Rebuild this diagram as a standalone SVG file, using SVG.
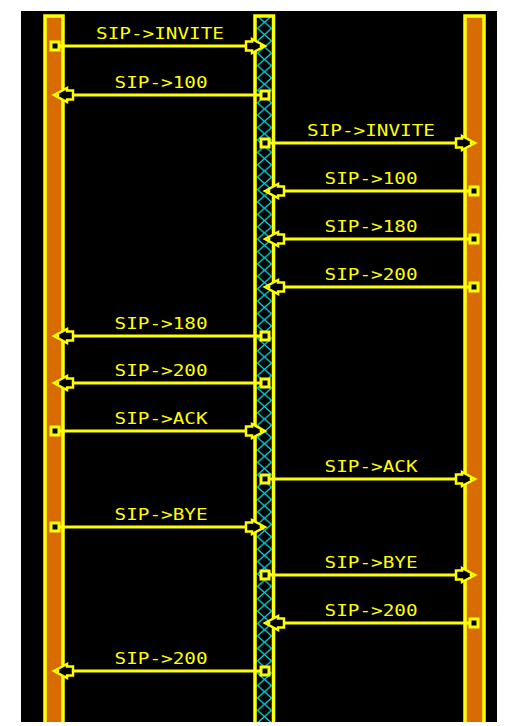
<svg xmlns="http://www.w3.org/2000/svg" width="508" height="726" viewBox="0 0 508 726">
<style>
.bg{fill:#000}
.life{fill:#D86C00;stroke:#FFFF00;stroke-width:3.5}
.mid{fill:url(#hatch);stroke:#FFFF00;stroke-width:3.5}
.msg{stroke:#FFFF00;stroke-width:3;fill:none}
.src{fill:#000;stroke:#FFFF00;stroke-width:3}
.head{fill:#000;stroke:#FFFF00;stroke-width:2.5;stroke-linejoin:miter}
.lbl{fill:#FFFF00;font-family:"DejaVu Sans Mono","Liberation Mono",monospace;font-size:16px;text-anchor:middle}
</style>
<defs>
<pattern id="hatch" x="257" y="16" width="15" height="12.4" patternUnits="userSpaceOnUse">
<rect width="15" height="12.4" fill="#000"/>
<path d="M0.5,0 L14.5,12.4 M14.5,0 L0.5,12.4" stroke="#00D8E0" stroke-width="1.3"/>
</pattern>
<g id="hr"><polygon class="head" points="0,0 -13,-7 -13,-4.5 -19,-4.5 -19,4.5 -13,4.5 -13,7"/><circle cx="-4" cy="0" r="1.4" fill="#FFFF00"/></g>
<g id="hl"><polygon class="head" points="0,0 13,-7 13,-4.5 19,-4.5 19,4.5 13,4.5 13,7"/><circle cx="4" cy="0" r="1.4" fill="#FFFF00"/></g>
<rect id="sq" class="src" x="-4" y="-4" width="8" height="8"/>
</defs>
<rect class="bg" x="21" y="11" width="476" height="711"/>
<g id="lifeline-left"><rect class="life" x="45" y="16" width="18" height="720"/></g>
<g id="lifeline-mid"><rect class="mid" x="255" y="16" width="18.5" height="720"/></g>
<g id="lifeline-right"><rect class="life" x="465" y="16" width="19" height="720"/></g>
<g id="connectors">
<line class="msg" x1="58" y1="46" x2="246" y2="46"/><use href="#sq" x="55" y="46"/><use href="#hr" x="265" y="46"/>
<text class="lbl" x="160" y="39" textLength="128" lengthAdjust="spacingAndGlyphs">SIP-&gt;INVITE</text>
<line class="msg" x1="262" y1="95" x2="73" y2="95"/><use href="#sq" x="265" y="95"/><use href="#hl" x="54" y="95"/>
<text class="lbl" x="161" y="88" textLength="93" lengthAdjust="spacingAndGlyphs">SIP-&gt;100</text>
<line class="msg" x1="268" y1="143" x2="456" y2="143"/><use href="#sq" x="265" y="143"/><use href="#hr" x="475" y="143"/>
<text class="lbl" x="371" y="136" textLength="128" lengthAdjust="spacingAndGlyphs">SIP-&gt;INVITE</text>
<line class="msg" x1="472" y1="191" x2="284" y2="191"/><use href="#sq" x="474" y="191"/><use href="#hl" x="265" y="191"/>
<text class="lbl" x="371" y="184" textLength="93" lengthAdjust="spacingAndGlyphs">SIP-&gt;100</text>
<line class="msg" x1="472" y1="239" x2="284" y2="239"/><use href="#sq" x="474" y="239"/><use href="#hl" x="265" y="239"/>
<text class="lbl" x="371" y="232" textLength="93" lengthAdjust="spacingAndGlyphs">SIP-&gt;180</text>
<line class="msg" x1="472" y1="287" x2="284" y2="287"/><use href="#sq" x="474" y="287"/><use href="#hl" x="265" y="287"/>
<text class="lbl" x="371" y="280" textLength="93" lengthAdjust="spacingAndGlyphs">SIP-&gt;200</text>
<line class="msg" x1="262" y1="336" x2="73" y2="336"/><use href="#sq" x="265" y="336"/><use href="#hl" x="54" y="336"/>
<text class="lbl" x="161" y="329" textLength="93" lengthAdjust="spacingAndGlyphs">SIP-&gt;180</text>
<line class="msg" x1="262" y1="383" x2="73" y2="383"/><use href="#sq" x="265" y="383"/><use href="#hl" x="54" y="383"/>
<text class="lbl" x="161" y="376" textLength="93" lengthAdjust="spacingAndGlyphs">SIP-&gt;200</text>
<line class="msg" x1="58" y1="431" x2="246" y2="431"/><use href="#sq" x="55" y="431"/><use href="#hr" x="265" y="431"/>
<text class="lbl" x="161" y="424" textLength="93" lengthAdjust="spacingAndGlyphs">SIP-&gt;ACK</text>
<line class="msg" x1="268" y1="479" x2="456" y2="479"/><use href="#sq" x="265" y="479"/><use href="#hr" x="475" y="479"/>
<text class="lbl" x="371" y="472" textLength="93" lengthAdjust="spacingAndGlyphs">SIP-&gt;ACK</text>
<line class="msg" x1="58" y1="527" x2="246" y2="527"/><use href="#sq" x="55" y="527"/><use href="#hr" x="265" y="527"/>
<text class="lbl" x="161" y="520" textLength="93" lengthAdjust="spacingAndGlyphs">SIP-&gt;BYE</text>
<line class="msg" x1="268" y1="575" x2="456" y2="575"/><use href="#sq" x="265" y="575"/><use href="#hr" x="475" y="575"/>
<text class="lbl" x="371" y="568" textLength="93" lengthAdjust="spacingAndGlyphs">SIP-&gt;BYE</text>
<line class="msg" x1="472" y1="623" x2="284" y2="623"/><use href="#sq" x="474" y="623"/><use href="#hl" x="265" y="623"/>
<text class="lbl" x="371" y="616" textLength="93" lengthAdjust="spacingAndGlyphs">SIP-&gt;200</text>
<line class="msg" x1="262" y1="671" x2="73" y2="671"/><use href="#sq" x="265" y="671"/><use href="#hl" x="54" y="671"/>
<text class="lbl" x="161" y="664" textLength="93" lengthAdjust="spacingAndGlyphs">SIP-&gt;200</text>
</g>
<rect x="0" y="722" width="508" height="4" fill="#fff"/>
</svg>
